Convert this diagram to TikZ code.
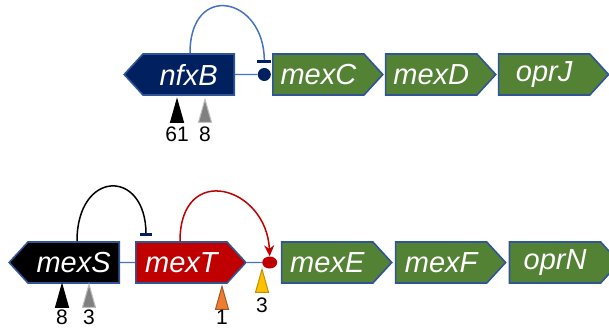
\documentclass[tikz,border=0pt]{standalone}
\usepackage{fontspec}
\setmainfont{Liberation Sans}
\usetikzlibrary{shapes.symbols,shapes.geometric,arrows.meta,positioning}

\definecolor{navy}{HTML}{002060}
\definecolor{edgeblue}{HTML}{2F5597}
\definecolor{linkblue}{HTML}{4472C4}
\definecolor{genegreen}{HTML}{548235}
\definecolor{genered}{HTML}{C00000}
\definecolor{snvorange}{HTML}{ED7D31}
\definecolor{snvyellow}{HTML}{FFC000}

\tikzstyle{gene} = [signal, signal pointer angle=95, minimum width=110pt, minimum height=41pt, inner sep=0pt, draw=edgeblue, line width=1.6pt, text=white, font=\fontsize{29}{29}\selectfont\itshape]
\tikzstyle{fwd} = [gene, signal to=east]
\tikzstyle{rev} = [gene, signal to=west]
\tikzstyle{promoter} = [draw=linkblue, line width=1.2pt]
\tikzstyle{hit} = [isosceles triangle, shape border rotate=90, isosceles triangle stretches, minimum width=13pt, minimum height=23pt, inner sep=0pt, line width=1pt, anchor=apex]
\tikzstyle{count} = [font=\fontsize{21}{21}\selectfont, inner sep=0pt]

\begin{document}
\begin{tikzpicture}[x=1pt, y=-1pt]
	\useasboundingbox (0,0) rectangle (609,330);

	% nfxB - mexCD-oprJ
	\node (nfxB) [rev, fill=navy, anchor=east] at (235,74.5) {nfxB};
	\node (mexC) [fwd, fill=genegreen, right=37pt of nfxB] {mexC};
	\node (mexD) [fwd, fill=genegreen, right=1pt of mexC] {mexD};
	\node (oprJ) [fwd, fill=genegreen, right=1pt of mexD] {oprJ};
	\node (boxC) [circle, fill=navy, minimum size=13pt, inner sep=0pt, left=1pt of mexC] {};

	\draw[promoter] (nfxB) -- (boxC);
	\draw[linkblue, line width=1.5pt, -{Bar[width=14pt, line width=3pt, color=navy]}] ([xshift=-45pt]nfxB.north east) .. controls +(0,-72) and +(0,-66) .. ([yshift=5pt]boxC.north);

	\node (snvB1) [hit, fill=black, draw=black] at (177,98) {};
	\node (snvB2) [hit, fill=gray, draw=lightgray] at (205,98) {};
	\node [count, below=4pt of snvB1] {61};
	\node [count, below=4pt of snvB2] {8};

	% mexS - mexT - mexEF-oprN
	\node (mexS) [rev, fill=black, anchor=east] at (120,262.5) {mexS};
	\node (mexT) [fwd, fill=genered, right=15pt of mexS] {mexT};
	\node (mexE) [fwd, fill=genegreen, right=34pt of mexT] {mexE};
	\node (mexF) [fwd, fill=genegreen, right=2pt of mexE] {mexF};
	\node (oprN) [fwd, fill=genegreen, right=2pt of mexF] {oprN};
	\node (boxE) [ellipse, fill=genered, minimum width=15pt, minimum height=12pt, inner sep=0pt, left=3.5pt of mexE] {};

	\draw[promoter] (mexS) -- (mexT);
	\draw[promoter] (mexT) -- (boxE);
	\draw[black, line width=1.5pt, -{Bar[width=12pt, line width=3pt, color=navy]}] ([xshift=-43pt]mexS.north east) .. controls +(0,-72) and +(0,-68) .. ([xshift=11pt, yshift=5pt]mexT.north west);
	\draw[genered, line width=1.5pt, -{Stealth[length=11pt, width=10pt]}] ([xshift=45pt]mexT.north west) .. controls +(0,-80) and +(-3,-70) .. (boxE.north);

	\node (snvS1) [hit, fill=black, draw=black] at (62,283) {};
	\node (snvS2) [hit, fill=gray, draw=lightgray] at (89,283) {};
	\node (snvT) [hit, fill=snvorange, draw=snvorange!70!black] at (222,285) {};
	\node (snvE) [hit, fill=snvyellow, draw=snvyellow!75!black] at (262,268) {};
	\node [count, below=2pt of snvS1] {8};
	\node [count, below=2pt of snvS2] {3};
	\node [count, below=0pt of snvT] {1};
	\node [count, below=5pt of snvE] {3};
\end{tikzpicture}
\end{document}
